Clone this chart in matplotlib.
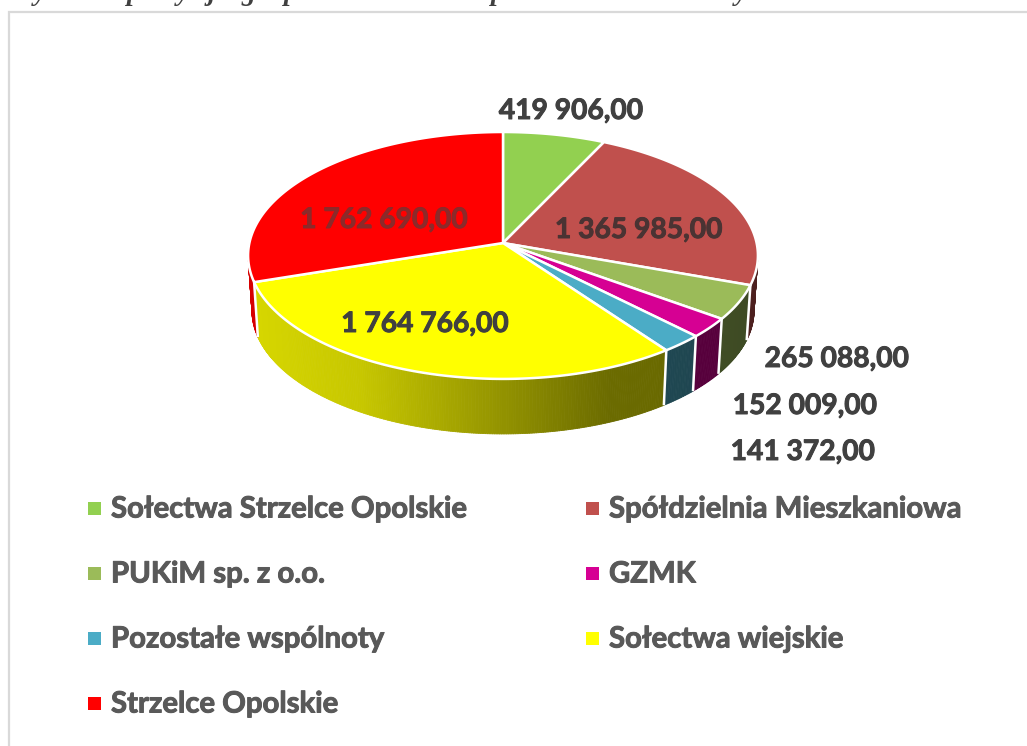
"""3D-look pie of heat consumers, drawn on a pixel-sized axes."""
import numpy as np
import matplotlib

matplotlib.use("Agg")
import matplotlib.pyplot as plt
import matplotlib.patheffects as pe
from matplotlib.collections import PolyCollection
from matplotlib.patches import Polygon, Rectangle

names = [
    "Sołectwa Strzelce Opolskie",
    "Spółdzielnia Mieszkaniowa",
    "PUKiM sp. z o.o.",
    "GZMK",
    "Pozostałe wspólnoty",
    "Sołectwa wiejskie",
    "Strzelce Opolskie",
]
values = [419906, 1365985, 265088, 152009, 141372, 1764766, 1762690]
value_labels = [
    "419 906,00",
    "1 365 985,00",
    "265 088,00",
    "152 009,00",
    "141 372,00",
    "1 764 766,00",
    "1 762 690,00",
]
colors = ["#92d050", "#c0504d", "#9bbb59", "#d60093", "#4bacc6", "#ffff00", "#ff0000"]

# centre-ish x of each label, y centre
label_pos = [(571, 111), (639, 230), (837, 359), (805, 406), (803, 452), (425, 324), (384, 220)]
label_cols = ["#404040", "#4a3333", "#404040", "#404040", "#404040", "#404040", "#8c2a2a"]

# bits of the cut off caption above the chart
caption_bits = [("y", 40), ("p", 134), ("y", 183), ("j", 212), ("g", 248), ("p", 291), ("p", 498), ("y", 741)]

CX, CY = 503.0, 243.0
RX, RY = 253.6, 122.2
K = 0.101
DEPTH = 55.0
TEXT = "#595959"


def project(theta):
    """theta in radians, clockwise from the top; perspective squeezed circle."""
    u, v = np.sin(theta), np.cos(theta)
    w = 1.0 + K * v
    return CX + RX * u / w, CY - RY * v / w


def bottom(x, y):
    return CX + (x - CX) * 0.985, y + DEPTH


def shade(x):
    return np.interp(x, [255, 360, 610, 765], [0.84, 0.78, 0.42, 0.40])


def rgb(c):
    return np.array(matplotlib.colors.to_rgb(c))


def heavy(col):
    # Lato bold is a bit thin next to the original font
    return [pe.withStroke(linewidth=0.7, foreground=col)]


fig = plt.figure(figsize=(10.27, 7.46), dpi=100)
ax = fig.add_axes([0, 0, 1, 1])
ax.set_xlim(0, 1027)
ax.set_ylim(746, 0)
ax.axis("off")

# frame of the pasted chart, runs off the right and bottom
ax.plot([9, 9, 1030], [750, 12, 12], color="#d9d9d9", lw=1.6, solid_joinstyle="miter")

for ch, x in caption_bits:
    ax.text(x, -0.5, ch, family="Liberation Serif", weight="bold", style="italic",
            fontsize=20, color="#404040", ha="center", va="baseline", clip_on=False)

edges = 2 * np.pi * np.concatenate([[0.0], np.cumsum(values)]) / np.sum(values)
t_right = np.arccos(-K)
t_left = 2 * np.pi - t_right

# side walls
for i, col in enumerate(colors):
    a0, a1 = max(edges[i], t_right), min(edges[i + 1], t_left)
    if a1 <= a0:
        continue
    ts = np.linspace(a0, a1, max(int((a1 - a0) * 120), 2))
    xs, ys = project(ts)
    xb, yb = bottom(xs, ys)
    quads, fcs = [], []
    for j in range(len(ts) - 1):
        quads.append([(xs[j], ys[j]), (xs[j + 1], ys[j + 1]), (xb[j + 1], yb[j + 1]), (xb[j], yb[j])])
        fcs.append(rgb(col) * shade(0.5 * (xs[j] + xs[j + 1])))
    ax.add_collection(PolyCollection(quads, facecolors=fcs, edgecolors=fcs, linewidths=0.6))

# white seams between the walls
for e in edges[1:-1]:
    if t_right < e < t_left:
        x, y = project(e)
        xb, yb = bottom(x, y)
        ax.plot([x, xb], [y, yb], color="white", lw=1.8, solid_capstyle="butt")

# top face
for i, col in enumerate(colors):
    ts = np.linspace(edges[i], edges[i + 1], max(int((edges[i + 1] - edges[i]) * 120), 3))
    xs, ys = project(ts)
    pts = np.column_stack([np.r_[CX, xs], np.r_[CY, ys]])
    ax.add_patch(Polygon(pts, closed=True, facecolor=col, edgecolor="white", lw=1.8, joinstyle="round"))

for txt, (x, y), col in zip(value_labels, label_pos, label_cols):
    ax.text(x, y, txt, family="Lato", weight="bold", fontsize=20.3, color=col, ha="center", va="center",
            path_effects=heavy(col))

# legend, 2 columns
legend_x = [88, 586]
legend_y = [508, 573, 638, 703]
for i, (name, col) in enumerate(zip(names, colors)):
    lx, ly = legend_x[i % 2], legend_y[i // 2]
    ax.add_patch(Rectangle((lx, ly - 6.5), 13, 13, facecolor=col, edgecolor="none"))
    ax.text(lx + 23, ly + 1.5, name, family="Lato", weight="bold", fontsize=21.1, color=TEXT, ha="left",
            va="center", path_effects=heavy(TEXT))

fig.savefig("out.png", dpi=100)
